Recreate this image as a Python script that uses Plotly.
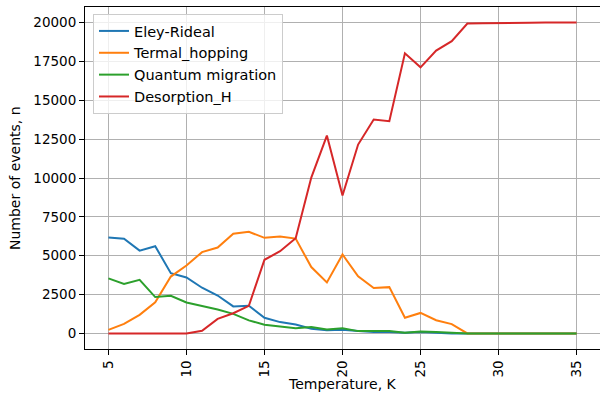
import plotly.graph_objects as go

temperature = list(range(5, 36))

eley_rideal = [6180, 6100, 5330, 5610, 3880, 3600, 2940, 2440, 1740, 1780,
               1010, 730, 580, 300, 200, 240, 150, 100, 100, 50,
               100, 50, 0, 0, 0, 0, 0, 0, 0, 0, 0]
termal_hopping = [230, 620, 1200, 2000, 3660, 4370, 5230, 5530, 6410, 6540,
                  6150, 6230, 6100, 4270, 3280, 5080, 3670, 2920, 2980, 1010,
                  1320, 850, 600, 0, 0, 0, 0, 0, 0, 0, 0]
quantum_migration = [3540, 3190, 3450, 2340, 2420, 1990, 1760, 1540, 1260, 840,
                     560, 470, 340, 420, 260, 330, 150, 150, 150, 50,
                     120, 100, 50, 0, 0, 0, 0, 0, 0, 0, 0]
desorption_h = [0, 0, 0, 0, 0, 0, 170, 940, 1300, 1780,
                4740, 5290, 6130, 10030, 12730, 8870, 12150, 13760, 13650, 18020,
                17120, 18200, 18800, 19940, 19950, 19950, 19970, 19990, 20000, 20000, 20000]

series = [
    ("Eley-Rideal", eley_rideal, "#1f77b4"),
    ("Termal_hopping", termal_hopping, "#ff7f0e"),
    ("Quantum migration", quantum_migration, "#2ca02c"),
    ("Desorption_H", desorption_h, "#d62728"),
]

x_ticks = [5, 10, 15, 20, 25, 30, 35]
y_ticks = [0, 2500, 5000, 7500, 10000, 12500, 15000, 17500, 20000]

fig = go.Figure()
for name, vals, color in series:
    fig.add_trace(go.Scatter(x=temperature, y=vals, mode="lines", name=name,
                             line=dict(color=color, width=2)))

FAM = "DejaVu Sans"
ML, MR, MT, MB = 85, 0, 7, 44
W, H = 600, 393
plot_h = H - MT - MB
plot_w = W - ML - MR

fig.update_layout(
    width=W, height=H,
    margin=dict(l=ML, r=MR, t=MT, b=MB),
    paper_bgcolor="white", plot_bgcolor="white",
    font=dict(family=FAM, size=13.5, color="black"),
    showlegend=True,
    legend=dict(x=(93 - ML) / plot_w, y=(H - MB - 14) / plot_h,
                xanchor="left", yanchor="top",
                bgcolor="rgba(255,255,255,0.8)", bordercolor="#cccccc",
                borderwidth=1, font=dict(family=FAM, size=14.5),
                tracegroupgap=0, itemwidth=30),
)
fig.add_annotation(text="Temperature, K", x=0.5, y=((H - MB) - 384) / plot_h,
                   xref="paper", yref="paper", showarrow=False,
                   font=dict(family=FAM, size=14), xanchor="center", yanchor="middle")
fig.add_annotation(text="Number of events, n", x=(15 - ML) / plot_w, y=0.5,
                   xref="paper", yref="paper", showarrow=False, textangle=-90,
                   font=dict(family=FAM, size=14), xanchor="center", yanchor="middle")

fig.update_xaxes(
    range=[3.5, 36.5], tickvals=x_ticks, ticktext=[str(v) for v in x_ticks],
    tickangle=-90, showgrid=True, gridcolor="#b0b0b0", gridwidth=1,
    showline=True, linecolor="black", linewidth=1, mirror=True,
    ticks="outside", ticklen=5, tickcolor="black", zeroline=False,
    automargin=False,
)
fig.update_yaxes(
    range=[-1000, 21000], tickvals=y_ticks, ticktext=[str(v) for v in y_ticks],
    showgrid=True, gridcolor="#b0b0b0", gridwidth=1,
    showline=True, linecolor="black", linewidth=1, mirror=True,
    ticks="outside", ticklen=5, tickcolor="black", zeroline=False,
    automargin=False,
)

fig.write_html("out.html",
               config={"displayModeBar": False},
               post_script="document.body.style.margin='0';document.body.style.padding='0';")
